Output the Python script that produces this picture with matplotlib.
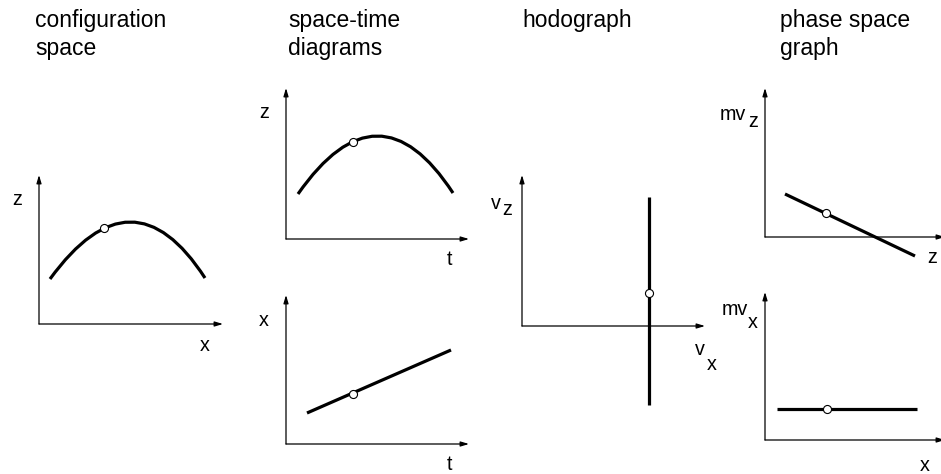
import matplotlib
matplotlib.use("Agg")
import matplotlib.pyplot as plt
from matplotlib.path import Path
from matplotlib.patches import PathPatch

plt.rcParams['font.family'] = ['Liberation Sans', 'DejaVu Sans']

W, H = 941, 474
FS = 16.5     # titles
LFS = 14.2    # axis labels

# titles: (text lines, left px)
titles = [(["configuration", "space"], 35),
          (["space-time", "diagrams"], 288),
          (["hodograph"], 522),
          (["phase space", "graph"], 780)]

# trajectory z(x): start, control, end of the parabola (panel units)
traj_x = [1.1, 9.35, 16.6]
traj_z = [4.5, 15.85, 4.6]
traj_pt = (6.5, 9.6)

# space-time z(t)
zt_t = [1.2, 9.25, 16.7]
zt_z = [4.5, 16.05, 4.6]
zt_pt = (6.7, 9.7)

# space-time x(t)
xt_t = [2.1, 16.5]
xt_x = [3.1, 9.4]
xt_pt = (6.7, 5.0)

# hodograph vz(vx)
hod_vx = [12.7, 12.7]
hod_vz = [12.9, -7.9]
hod_pt = (12.7, 3.3)

# phase space mvz(z)
pz_z = [2.0, 15.0]
pz_p = [4.3, -1.9]
pz_pt = (6.1, 2.4)

# phase space mvx(x)
px_x = [1.2, 15.2]
px_p = [3.1, 3.1]
px_pt = (6.2, 3.1)

fig = plt.figure(figsize=(W / 100, H / 100), dpi=100)


def panel(ox, oy, xlen, ylen):
    # origin in pixels (y from top), axis lengths in pixels; 1 unit = 10 px
    ax = fig.add_axes([ox / W, (H - oy) / H, xlen / W, ylen / H])
    ax.set_xlim(0, xlen / 10)
    ax.set_ylim(0, ylen / 10)
    ax.axis('off')
    ap = dict(arrowstyle='-|>,head_length=0.6,head_width=0.18', lw=0.9,
              color='black', shrinkA=0, shrinkB=0, mutation_scale=8)
    ax.annotate('', xy=(xlen / 10, 0), xytext=(0, 0), arrowprops=ap,
                annotation_clip=False)
    ax.annotate('', xy=(0, ylen / 10), xytext=(0, 0), arrowprops=ap,
                annotation_clip=False)
    return ax


def label(ax, x, y, s):
    ax.text(x, y, s, fontsize=LFS, ha='left', va='baseline', clip_on=False)


def marker(ax, pt):
    ax.plot([pt[0]], [pt[1]], 'o', ms=5.8, mfc='white', mec='black',
            mew=0.8, clip_on=False, zorder=5)


def parabola(ax, xs, ys):
    path = Path(list(zip(xs, ys)), [Path.MOVETO, Path.CURVE3, Path.CURVE3])
    ax.add_patch(PathPatch(path, fc='none', ec='black', lw=2.3,
                           capstyle='butt', clip_on=False))


for lines, left in titles:
    for i, s in enumerate(lines):
        fig.text(left / W, 1 - (27 + 28 * i) / H, s, fontsize=FS,
                 ha='left', va='baseline')

# configuration space
ax1 = panel(39, 324, 184, 149)
parabola(ax1, traj_x, traj_z)
marker(ax1, traj_pt)
label(ax1, -2.7, 11.9, "z")
label(ax1, 16.1, -2.7, "x")

# space-time z(t)
ax2 = panel(286, 239, 183, 151)
parabola(ax2, zt_t, zt_z)
marker(ax2, zt_pt)
label(ax2, -2.7, 12.1, "z")
label(ax2, 16.1, -2.6, "t")

# space-time x(t)
ax3 = panel(286, 444, 183, 149)
ax3.plot(xt_t, xt_x, color='black', lw=2.3, solid_capstyle='butt')
marker(ax3, xt_pt)
label(ax3, -2.7, 11.8, "x")
label(ax3, 16.1, -2.65, "t")

# hodograph
ax4 = panel(522, 326, 183, 151)
ax4.plot(hod_vx, hod_vz, color='black', lw=2.3, solid_capstyle='butt',
         clip_on=False)
marker(ax4, hod_pt)
label(ax4, -3.1, 11.7, "v")
label(ax4, -2.0, 11.1, "z")
label(ax4, 17.3, -2.9, "v")
label(ax4, 18.5, -4.4, "x")

# phase space z
ax5 = panel(765, 237, 180, 149)
ax5.plot(pz_z, pz_p, color='black', lw=2.3, solid_capstyle='butt',
         clip_on=False)
marker(ax5, pz_pt)
label(ax5, -4.5, 11.7, "mv")
label(ax5, -1.7, 11.0, "z")
label(ax5, 16.2, -2.6, "z")

# phase space x
ax6 = panel(765, 440, 180, 148)
ax6.plot(px_x, px_p, color='black', lw=2.3, solid_capstyle='butt')
marker(ax6, px_pt)
label(ax6, -4.3, 12.5, "mv")
label(ax6, -1.7, 11.2, "x")
label(ax6, 15.5, -3.1, "x")

fig.savefig("out.png", dpi=100)
